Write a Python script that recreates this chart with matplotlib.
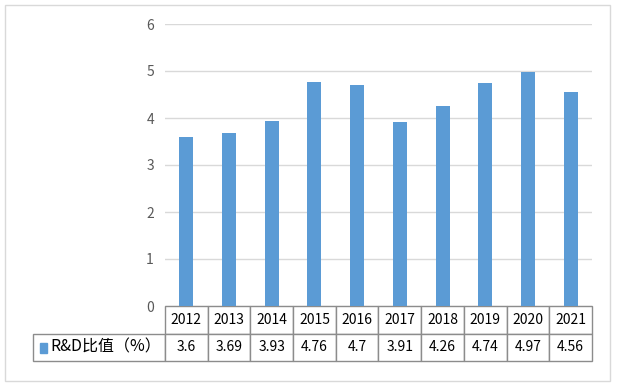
import matplotlib
matplotlib.use("Agg")
import matplotlib.pyplot as plt
from matplotlib.table import Table
from matplotlib.patches import Rectangle

plt.rcParams['font.family'] = ['Noto Sans CJK SC', 'DejaVu Sans']

years = ['2012', '2013', '2014', '2015', '2016', '2017', '2018', '2019', '2020', '2021']
ratio = [3.6, 3.69, 3.93, 4.76, 4.7, 3.91, 4.26, 4.74, 4.97, 4.56]
series_name = 'R&D比值（%）'
yticks = [0, 1, 2, 3, 4, 5, 6]

blue = '#5B9BD5'
W, H = 617, 389
AW, AH = 427, 282   # plot area in pixels

fig = plt.figure(figsize=(W / 100, H / 100), dpi=100)
# outer chart border
fig.patches.append(Rectangle((5 / W, 1 - 381 / H), 605 / W, 376 / H,
                             transform=fig.transFigure, fill=False,
                             edgecolor='#D9D9D9', linewidth=1))

ax = fig.add_axes([165 / W, 1 - 306 / H, AW / W, AH / H])
x = list(range(len(years)))
ax.bar(x, ratio, width=0.33, color=blue, zorder=3)
ax.set_xlim(-0.5, len(years) - 0.5)
ax.set_ylim(0, 6)
ax.set_yticks(yticks)
ax.set_xticks([])
ax.tick_params(axis='y', length=0, pad=8, labelsize=10, labelcolor='#595959')
ax.grid(axis='y', color='#D9D9D9', linewidth=1, zorder=0)
for s in ax.spines.values():
    s.set_visible(False)

# data table under the plot (cell sizes in axes units)
cw = 1 / len(years)
rh = 27.5 / AH
tbl = Table(ax, bbox=[0, -2 * rh, 1, 2 * rh])
for j, yr in enumerate(years):
    tbl.add_cell(0, j, width=cw, height=rh, text=yr, loc='center')
    tbl.add_cell(1, j, width=cw, height=rh, text=str(ratio[j]), loc='center')
lab = tbl.add_cell(1, -1, width=132 / AW, height=rh, text=series_name, loc='left')
lab.PAD = 0.13
tbl.auto_set_font_size(False)
tbl.set_fontsize(10)
for cell in tbl.get_celld().values():
    cell.set_edgecolor('#8C8C8C')
    cell.set_linewidth(1)
    cell.get_text().set_color('black')
lab.get_text().set_fontsize(11.5)
ax.add_table(tbl)

ax.add_patch(Rectangle(((40 - 165) / AW, (306 - 353) / AH), 7 / AW, 10 / AH,
                       transform=ax.transAxes, color=blue, clip_on=False))

fig.savefig('out.png', dpi=100)
